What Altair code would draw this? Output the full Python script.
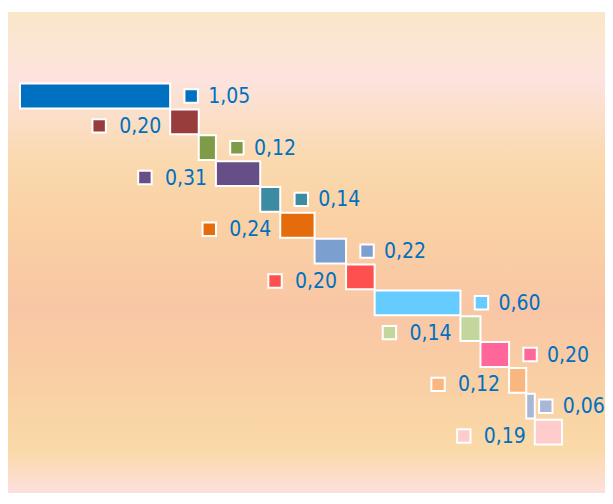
import altair as alt
import pandas as pd

values = [1.05, 0.20, 0.12, 0.31, 0.14, 0.24, 0.22, 0.20, 0.60, 0.14, 0.20, 0.12, 0.06, 0.19]
labels = ["1,05", "0,20", "0,12", "0,31", "0,14", "0,24", "0,22", "0,20", "0,60", "0,14", "0,20", "0,12", "0,06", "0,19"]
colors = ["#0070C0", "#993C3C", "#7F9B47", "#664E86", "#3B8CA3", "#E46C0A", "#7B9FCF",
          "#FF5050", "#66CCFF", "#C3D69B", "#FF6699", "#F9B77F", "#A9B7D6", "#FFCCCC"]
sides = ["right", "left"] * 7

W, H = 597, 485
PX_PER_UNIT = 143.0
ROW_PX = 25.85

df = pd.DataFrame({"value": values, "label": labels, "color": colors, "side": sides})
df["idx"] = range(len(df))
df["end"] = df["value"].cumsum()
df["start"] = df["end"] - df["value"]
df["y0"] = df["idx"] - 0.48
df["y1"] = df["idx"] + 0.48

xscale = alt.Scale(domain=[-12 / PX_PER_UNIT, (W - 12) / PX_PER_UNIT], nice=False, zero=False)
yscale = alt.Scale(domain=[-88 / ROW_PX, (H - 88) / ROW_PX], nice=False, zero=False, reverse=True)

FONT = "'Liberation Sans Narrow', 'DejaVu Sans Condensed', sans-serif"

bg = alt.Chart(pd.DataFrame({"a": [0]})).mark_rect(
    color=alt.Gradient(
        gradient="linear", x1=0, x2=0, y1=0, y2=1,
        stops=[
            alt.GradientStop(offset=0.0, color="#FAE7C9"),
            alt.GradientStop(offset=0.14, color="#FCE3DE"),
            alt.GradientStop(offset=0.31, color="#FAD9AE"),
            alt.GradientStop(offset=0.45, color="#FAD0A4"),
            alt.GradientStop(offset=0.62, color="#F9C6A5"),
            alt.GradientStop(offset=0.78, color="#F9D0A4"),
            alt.GradientStop(offset=0.91, color="#FAD9A8"),
            alt.GradientStop(offset=1.0, color="#FDE0DE"),
        ],
    )
).encode(x=alt.value(0), x2=alt.value(W), y=alt.value(4), y2=alt.value(H))

base = alt.Chart(df)
enc = dict(
    x=alt.X("start:Q", scale=xscale, axis=None),
    x2="end:Q",
    y=alt.Y("y0:Q", scale=yscale, axis=None),
    y2="y1:Q",
)

shadow1 = base.mark_rect(color="#3a2a20", opacity=0.2, xOffset=2, yOffset=3).encode(**enc)
shadow2 = base.mark_rect(color="#3a2a20", opacity=0.13, xOffset=4, yOffset=5).encode(**enc)

bars = base.mark_rect(stroke="white", strokeWidth=2).encode(
    color=alt.Color("color:N", scale=None), **enc
)

right = base.transform_filter(alt.datum.side == "right").transform_calculate(
    anchor="min(datum.end, 3.53)"
)
left = base.transform_filter(alt.datum.side == "left")

sq_right = right.mark_square(size=180, opacity=1, stroke="white", strokeWidth=2, xOffset=21).encode(
    x=alt.X("anchor:Q", scale=xscale, axis=None),
    y=alt.Y("idx:Q", scale=yscale, axis=None),
    color=alt.Color("color:N", scale=None),
)
sq_left = left.mark_square(size=180, opacity=1, stroke="white", strokeWidth=2, xOffset=-71, yOffset=4).encode(
    x=alt.X("start:Q", scale=xscale, axis=None),
    y=alt.Y("idx:Q", scale=yscale, axis=None),
    color=alt.Color("color:N", scale=None),
)

txt_right = right.mark_text(
    align="left", baseline="middle", dx=38, dy=1, font=FONT, fontSize=21, color="#0070C0"
).encode(
    x=alt.X("anchor:Q", scale=xscale, axis=None),
    y=alt.Y("idx:Q", scale=yscale, axis=None),
    text="label:N",
)
txt_left = left.mark_text(
    align="left", baseline="middle", dx=-51, dy=5, font=FONT, fontSize=21, color="#0070C0"
).encode(
    x=alt.X("start:Q", scale=xscale, axis=None),
    y=alt.Y("idx:Q", scale=yscale, axis=None),
    text="label:N",
)

chart = alt.layer(bg, shadow2, shadow1, bars, sq_right, sq_left, txt_right, txt_left).properties(
    width=W, height=H, padding=0, autosize=alt.AutoSizeParams(type="none"), background="white"
).configure_view(stroke=None)

chart.save("out.html", embed_options={"renderer": "svg", "actions": False})
